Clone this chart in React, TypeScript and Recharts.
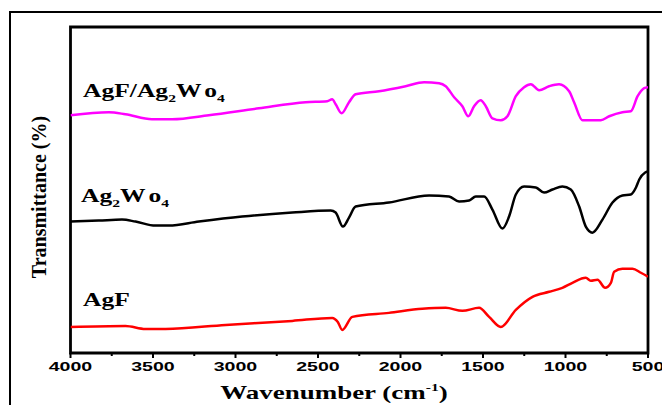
import { LineChart, Line, XAxis, YAxis, ReferenceArea } from "recharts";

// FTIR spectra (transmittance in arbitrary units, offset per sample)
const WAVENUMBER_TICKS = [4000, 3750, 3500, 3250, 3000, 2750, 2500, 2250, 2000, 1750, 1500, 1250, 1000, 750, 500];

const agfAg2wo4: [number, number][] = [
  [4000, 237], [3768, 240], [3667, 238], [3506, 233], [3384, 233], [3162, 237], [2858, 244],
  [2575, 250], [2444, 251], [2414, 253], [2393, 248], [2357, 239], [2312, 250], [2272, 258],
  [2130, 261], [1969, 266], [1857, 270], [1766, 269], [1726, 266], [1675, 255], [1625, 246],
  [1589, 236], [1554, 246], [1514, 252], [1483, 246], [1443, 234], [1392, 232], [1352, 236],
  [1301, 256], [1251, 265], [1210, 268], [1160, 262], [1099, 266], [1039, 268], [978, 261],
  [948, 250], [897, 232], [786, 232], [735, 236], [655, 240], [604, 241], [563, 256],
  [523, 264], [500, 265],
];

const ag2wo4: [number, number][] = [
  [4000, 131], [3829, 132], [3688, 133], [3606, 131], [3485, 127], [3404, 127], [3222, 131],
  [2960, 136], [2656, 140], [2423, 142], [2393, 140], [2349, 126], [2312, 135], [2272, 146],
  [2070, 150], [1827, 157], [1706, 156], [1645, 151], [1584, 152], [1544, 156], [1493, 156],
  [1443, 143], [1382, 124], [1342, 136], [1301, 158], [1251, 166], [1180, 165], [1130, 160],
  [1079, 163], [1019, 166], [968, 163], [917, 146], [877, 126], [837, 120], [776, 133],
  [715, 150], [655, 157], [604, 158], [573, 165], [553, 173], [517, 180], [500, 181],
];

const agf: [number, number][] = [
  [4000, 26], [3667, 27], [3546, 24], [3424, 24], [3060, 28], [2656, 32], [2414, 35],
  [2380, 31], [2353, 23], [2292, 36], [2070, 40], [1868, 44], [1726, 45], [1625, 42],
  [1524, 45], [1463, 36], [1392, 26], [1301, 43], [1200, 56], [1099, 61], [1019, 65],
  [958, 70], [877, 75], [847, 72], [806, 73], [760, 65], [725, 70], [705, 81], [655, 84],
  [594, 84], [543, 80], [500, 76],
];

const toRows = (pts: [number, number][]) => pts.map(([w, t]) => ({ w, t }));

const SERIF = "'Liberation Serif', 'Times New Roman', serif";
const SANS = "'Liberation Sans', Arial, sans-serif";
const STRETCH = 1.42;

const WavenumberTick = (props: any) => {
  const { x, y, payload } = props;
  const major = payload.value % 500 === 0;
  return (
    <g transform={`translate(${x},${y})`}>
      <line x1={0} y1={0} x2={0} y2={major ? 5 : 3} stroke="#000" strokeWidth={2} />
      {major && (
        <text
          x={0}
          y={18}
          textAnchor="middle"
          transform={`scale(1.45,1)`}
          fontFamily={SANS}
          fontWeight="bold"
          fontSize={13.5}
          fill="#000"
        >
          {payload.value}
        </text>
      )}
    </g>
  );
};

const SampleName = ({ x, y, children }: { x: number; y: number; children: any }) => (
  <text
    transform={`translate(${x},${y}) scale(${STRETCH},1)`}
    fontFamily={SERIF}
    fontWeight="bold"
    fontSize={18}
    fill="#000"
  >
    {children}
  </text>
);

export default function App() {
  return (
    <div style={{ position: "relative", width: 662, height: 397, overflow: "hidden", background: "#fff" }}>
      <div
        style={{
          position: "absolute",
          left: 1,
          top: 3,
          width: 700,
          height: 450,
          borderLeft: "2px solid #000",
          borderTop: "2.5px solid #000",
        }}
      />
      <LineChart
        width={662}
        height={397}
        margin={{ top: 19, right: 22, left: 0, bottom: 0 }}
        style={{ position: "absolute", left: 0, top: 0 }}
      >
        <XAxis
          dataKey="w"
          type="number"
          domain={[500, 4000]}
          reversed
          ticks={WAVENUMBER_TICKS}
          interval={0}
          tickSize={0}
          tickMargin={0}
          tickLine={false}
          tick={<WavenumberTick />}
          axisLine={false}
          height={52}
          allowDataOverflow
        />
        <YAxis
          type="number"
          domain={[0, 325]}
          tick={false}
          tickLine={false}
          axisLine={false}
          width={62.5}
          allowDataOverflow
        />
        <ReferenceArea
          x1={4000}
          x2={500}
          y1={0}
          y2={325}
          fill="none"
          fillOpacity={0}
          stroke="#000"
          strokeWidth={2.8}
          ifOverflow="visible"
        />
        <Line
          data={toRows(agfAg2wo4)}
          dataKey="t"
          type="monotone"
          stroke="#ff00ff"
          strokeWidth={2.5}
          dot={false}
          isAnimationActive={false}
        />
        <Line
          data={toRows(ag2wo4)}
          dataKey="t"
          type="monotone"
          stroke="#000000"
          strokeWidth={2.5}
          dot={false}
          isAnimationActive={false}
        />
        <Line
          data={toRows(agf)}
          dataKey="t"
          type="monotone"
          stroke="#ff0000"
          strokeWidth={2.5}
          dot={false}
          isAnimationActive={false}
        />
        <SampleName x={75} y={88.5}>
          AgF/Ag<tspan fontSize={11} dy={5}>2</tspan>
          <tspan dy={-5}>W</tspan>
          <tspan dx={2}>o</tspan>
          <tspan fontSize={11} dy={5}>4</tspan>
        </SampleName>
        <SampleName x={73} y={193.5}>
          Ag<tspan fontSize={11} dy={5}>2</tspan>
          <tspan dy={-5}>W</tspan>
          <tspan dx={2}>o</tspan>
          <tspan fontSize={11} dy={5}>4</tspan>
        </SampleName>
        <SampleName x={75} y={298}>
          AgF
        </SampleName>
        <text
          transform="translate(31,189) rotate(-90)"
          textAnchor="middle"
          dominantBaseline="central"
          fontFamily={SERIF}
          fontWeight="bold"
          fontSize={20}
          fill="#000"
        >
          Transmittance (%)
        </text>
        <text
          transform={`translate(326,391) scale(${STRETCH},1)`}
          textAnchor="middle"
          fontFamily={SERIF}
          fontWeight="bold"
          fontSize={19}
          fill="#000"
        >
          Wavenumber (cm<tspan fontSize={11} dy={-8}>-1</tspan>
          <tspan dy={8}>)</tspan>
        </text>
      </LineChart>
    </div>
  );
}
